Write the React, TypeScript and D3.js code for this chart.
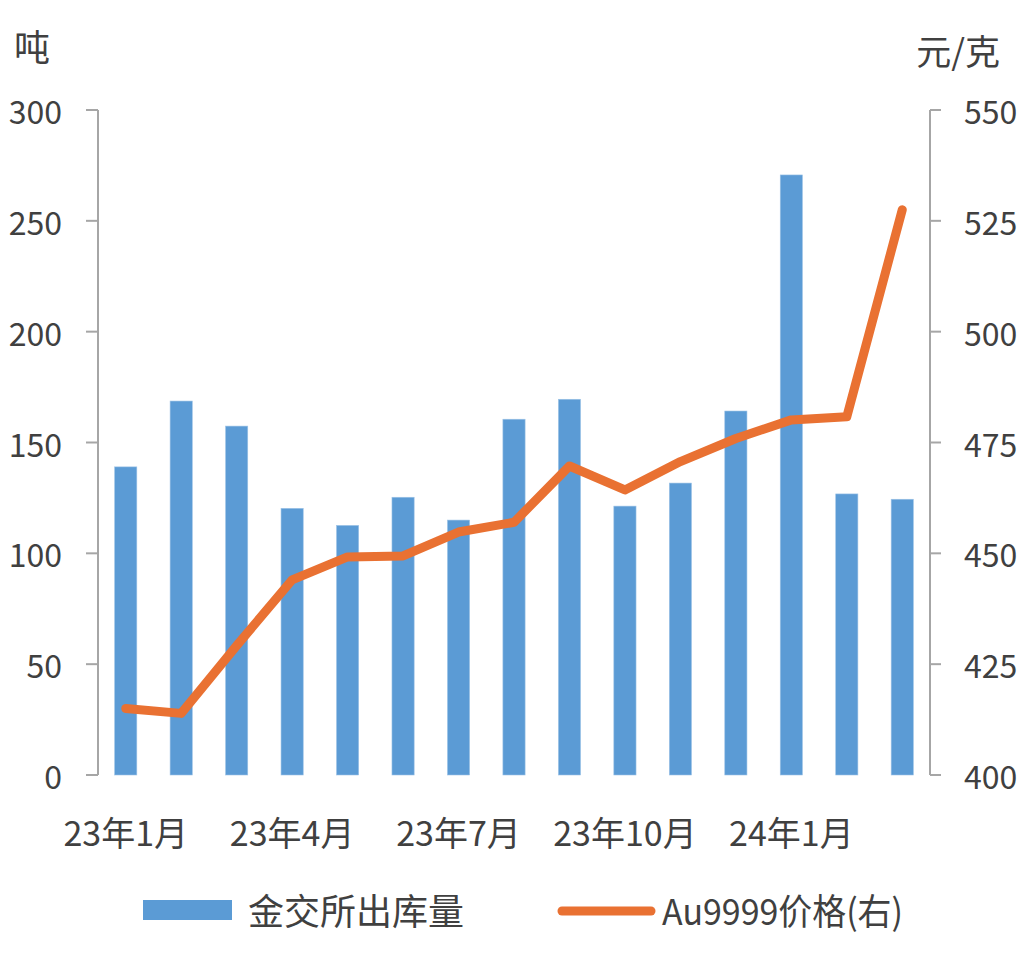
import React from "react";
import * as d3 from "d3";

const categories = [
  "23年1月", "23年2月", "23年3月", "23年4月", "23年5月", "23年6月", "23年7月", "23年8月",
  "23年9月", "23年10月", "23年11月", "23年12月", "24年1月", "24年2月", "24年3月",
];
const outflow = [139, 168.7, 157.4, 120.3, 112.6, 125.3, 115, 160.5, 169.5, 121.3, 131.7, 164.2, 270.7, 126.8, 124.4];
const price = [415.0, 413.9, 429.2, 444.0, 449.2, 449.4, 454.8, 457.0, 469.7, 464.3, 470.7, 475.9, 480.1, 480.8, 527.5];
const leftTicks = [0, 50, 100, 150, 200, 250, 300];
const rightTicks = [400, 425, 450, 475, 500, 525, 550];
const xLabelIndices = [0, 3, 6, 9, 12];

const FONT = "'Noto Sans CJK SC', 'Noto Sans', sans-serif";
const TEXT = "#404040";
const AXIS = "#A6A6A6";

export default function App() {
  const W = 1031, H = 967;
  const left = 98, right = 930, top = 110, bottom = 775;

  const x = d3.scaleBand<string>().domain(categories).range([left, right]).paddingInner(0.6).paddingOuter(0.3);
  const yL = d3.scaleLinear().domain([0, 300]).range([bottom, top]);
  const yR = d3.scaleLinear().domain([400, 550]).range([bottom, top]);
  const cx = (c: string) => (x(c) as number) + x.bandwidth() / 2;

  const line = d3.line<number>()
    .x((_, i) => cx(categories[i]))
    .y((d) => yR(d));

  return (
    <svg width={W} height={H} style={{ position: "absolute", left: 0, top: 0 }} fontFamily={FONT}>
      <rect width={W} height={H} fill="#fff" />
      {/* bars */}
      {outflow.map((v, i) => (
        <rect key={i} x={x(categories[i])} y={yL(v)} width={x.bandwidth()} height={yL(0) - yL(v)}
          fill="#5B9BD5" stroke="#9DC3E6" strokeWidth={0.6} />
      ))}
      {/* line */}
      <path d={line(price) || ""} fill="none" stroke="#E97132" strokeWidth={9}
        strokeLinejoin="round" strokeLinecap="round" />
      {/* left axis */}
      <line x1={left} x2={left} y1={top} y2={bottom} stroke={AXIS} strokeWidth={2} />
      {leftTicks.map((t) => (
        <g key={t}>
          <line x1={left - 12} x2={left} y1={yL(t)} y2={yL(t)} stroke={AXIS} strokeWidth={2} />
          <text x={62} y={yL(t)} textAnchor="end" dominantBaseline="central" fontSize={32} fill={TEXT}>{t}</text>
        </g>
      ))}
      {/* right axis */}
      <line x1={right} x2={right} y1={top} y2={bottom} stroke={AXIS} strokeWidth={2} />
      {rightTicks.map((t) => (
        <g key={t}>
          <line x1={right} x2={right + 11} y1={yR(t)} y2={yR(t)} stroke={AXIS} strokeWidth={2} />
          <text x={964} y={yR(t)} textAnchor="start" dominantBaseline="central" fontSize={32} fill={TEXT}>{t}</text>
        </g>
      ))}
      {/* x labels */}
      {xLabelIndices.map((i) => (
        <text key={i} x={cx(categories[i])} y={831} textAnchor="middle" dominantBaseline="central" fontSize={34} fill={TEXT}>
          {categories[i]}
        </text>
      ))}
      {/* axis titles */}
      <text x={14} y={45} dominantBaseline="central" fontSize={36} fill={TEXT}>吨</text>
      <text x={1000} y={49} textAnchor="end" dominantBaseline="central" fontSize={35} fill={TEXT}>元/克</text>
      {/* legend */}
      <rect x={143} y={900} width={89} height={20} fill="#5B9BD5" />
      <text x={248} y={909} dominantBaseline="central" fontSize={36} fill={TEXT}>金交所出库量</text>
      <line x1={562} x2={651} y1={911} y2={911} stroke="#E97132" strokeWidth={9} strokeLinecap="round" />
      <text x={662} y={909} dominantBaseline="central" fontSize={36} fill={TEXT} textLength={241} lengthAdjust="spacingAndGlyphs">Au9999价格(右)</text>
    </svg>
  );
}
